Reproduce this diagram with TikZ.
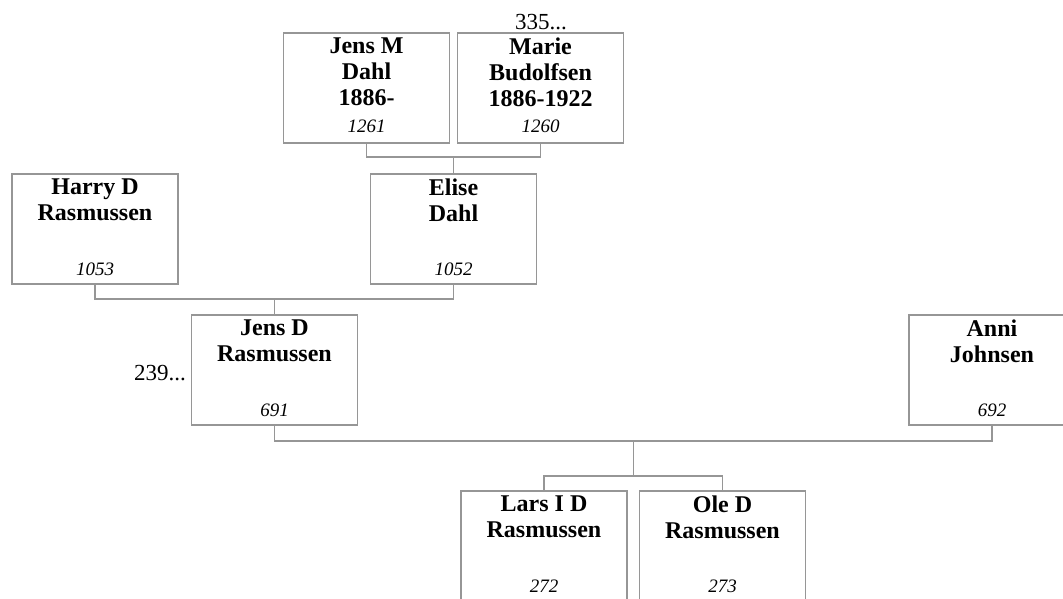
\documentclass[tikz,border=0pt]{standalone}
\usepackage{fontspec}
\setmainfont{Liberation Serif}
\usepackage{tikz}
\usetikzlibrary{positioning}

\definecolor{boxgray}{RGB}{150,150,150}

\begin{document}
\begin{tikzpicture}[
    x=1pt, y=-1pt,
    person/.style={rectangle, draw=boxgray, line width=1.3pt, minimum width=166pt, minimum height=110pt, inner sep=0pt},
    pname/.style={anchor=north, align=center, inner sep=0pt, font=\bfseries\fontsize{24}{26}\selectfont},
    pnum/.style={anchor=base, inner sep=0pt, font=\itshape\fontsize{19}{22}\selectfont},
    more/.style={inner sep=0pt, font=\fontsize{23}{26}\selectfont},
    link/.style={draw=boxgray, line width=1.2pt}
]
\useasboundingbox (0,0) rectangle (1063,598);

%% ── Grandparents (y=88) ─────────────────────────────────────────────────────
\node[person] (jensm) at (366.5, 88) {};
\node[pname]  (jensm_t) at ([yshift=-5pt]jensm.north) {Jens M\\Dahl\\1886-};
\node[pnum]   (jensm_n) at ([yshift=11pt]jensm.south) {1261};

\node[person] (marie) at (540.5, 88) {};
\node[pname]  (marie_t) at ([yshift=-5pt]marie.north) {Marie\\Budolfsen\\1886-1922};
\node[pnum]   (marie_n) at ([yshift=11pt]marie.south) {1260};
\node[more, anchor=base] (marie_more) at (541, 29) {335...};

%% ── Parents (y=229) ─────────────────────────────────────────────────────────
\node[person] (harry) at (95, 229) {};
\node[pname]  (harry_t) at ([yshift=-5pt]harry.north) {Harry D\\Rasmussen};
\node[pnum]   (harry_n) at ([yshift=9pt]harry.south) {1053};

\node[person] (elise) at (453.5, 229) {};
\node[pname]  (elise_t) at ([yshift=-5pt]elise.north) {Elise\\Dahl};
\node[pnum]   (elise_n) at ([yshift=9pt]elise.south) {1052};

%% ── Couple (y=370) ──────────────────────────────────────────────────────────
\node[person] (jensd) at (274.5, 370) {};
\node[pname]  (jensd_t) at ([yshift=-5pt]jensd.north) {Jens D\\Rasmussen};
\node[pnum]   (jensd_n) at ([yshift=9pt]jensd.south) {691};
\node[more, anchor=base east] (jensd_more) at (186, 380) {239...};

\node[person] (anni) at (992, 370) {};
\node[pname]  (anni_t) at ([yshift=-5pt]anni.north) {Anni\\Johnsen};
\node[pnum]   (anni_n) at ([yshift=9pt]anni.south) {692};

%% ── Children (y=546) ────────────────────────────────────────────────────────
\node[person] (lars) at (544, 546) {};
\node[pname]  (lars_t) at ([yshift=-5pt]lars.north) {Lars I D\\Rasmussen};
\node[pnum]   (lars_n) at ([yshift=9pt]lars.south) {272};

\node[person] (ole) at (722.5, 546) {};
\node[pname]  (ole_t) at ([yshift=-5pt]ole.north) {Ole D\\Rasmussen};
\node[pnum]   (ole_n) at ([yshift=9pt]ole.south) {273};

%% ── Bar points ──────────────────────────────────────────────────────────────
\coordinate (bar1) at (453.5, 157);
\coordinate (bar2) at (274.5, 299);
\coordinate (bar3) at (633.25, 441);
\coordinate (kids) at (633.25, 476);

%% ── Connectors ──────────────────────────────────────────────────────────────
\draw[link] (jensm.south) |- (bar1) -| (marie.south);
\draw[link] (bar1) -- (elise.north);
\draw[link] (harry.south) |- (bar2) -| (elise.south);
\draw[link] (bar2) -- (jensd.north);
\draw[link] (jensd.south) |- (bar3) -| (anni.south);
\draw[link] (bar3) -- (kids);
\draw[link] (lars.north) |- (kids) -| (ole.north);

\end{tikzpicture}
\end{document}
